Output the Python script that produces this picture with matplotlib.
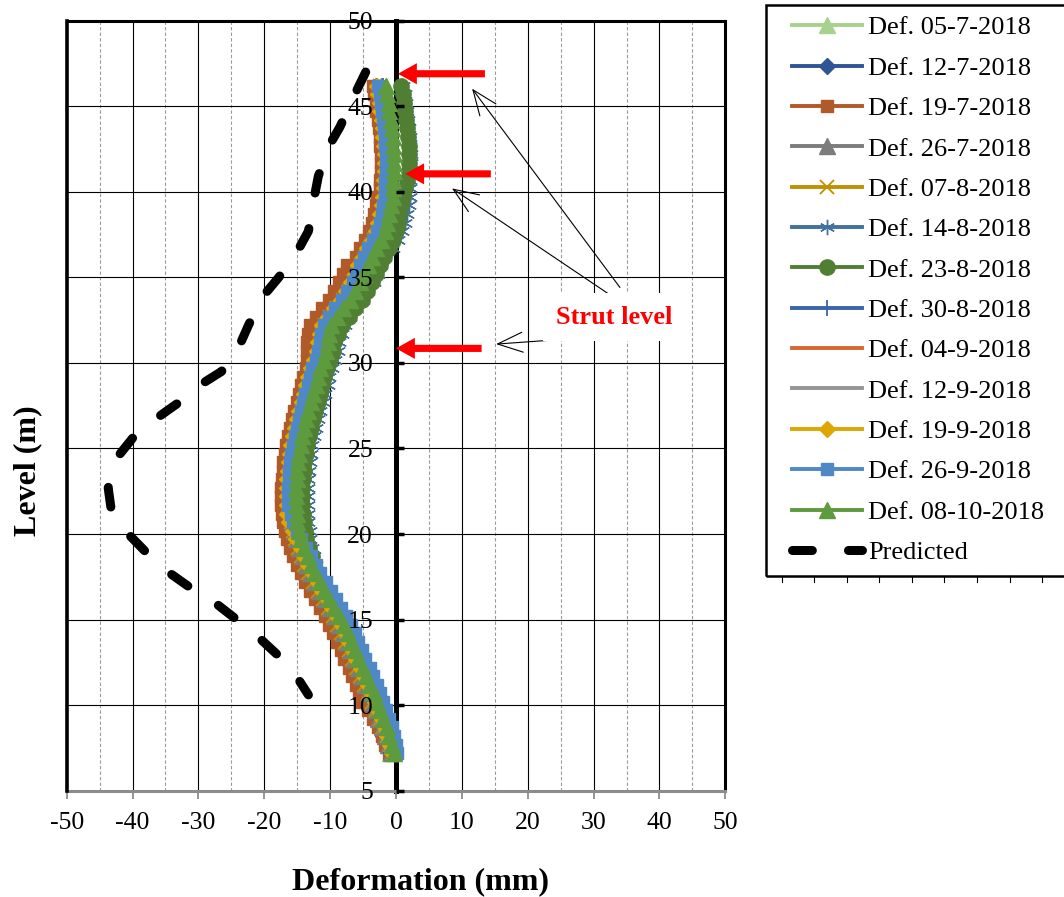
import matplotlib
matplotlib.use("Agg")
import matplotlib.pyplot as plt
from matplotlib.patches import Rectangle, FancyArrowPatch
from matplotlib.lines import Line2D

plt.rcParams['font.family'] = ['Liberation Serif', 'DejaVu Serif']
plt.rcParams['axes.unicode_minus'] = False

# ---------------- data ----------------
LEVELS = [46.2, 45.7, 45.2, 44.7, 44.2, 43.7, 43.2, 42.7, 42.2, 41.7,
          41.2, 40.7, 40.2, 39.7, 39.2, 38.7, 38.2, 37.7, 37.2, 36.7,
          36.2, 35.7, 35.2, 34.7, 34.2, 33.7, 33.2, 32.7, 32.2, 31.7,
          31.2, 30.7, 30.2, 29.7, 29.2, 28.7, 28.2, 27.7, 27.2, 26.7,
          26.2, 25.7, 25.2, 24.7, 24.2, 23.7, 23.2, 22.7, 22.2, 21.7,
          21.2, 20.7, 20.2, 19.7, 19.2, 18.7, 18.2, 17.7, 17.2, 16.7,
          16.2, 15.7, 15.2, 14.7, 14.2, 13.7, 13.2, 12.7, 12.2, 11.7,
          11.2, 10.7, 10.2, 9.7, 9.2, 8.7, 8.2, 7.7, 7.2]

DEF_05_07 = [-2.1, -1.9, -1.7, -1.6, -1.4, -1.2, -1.1, -1.0, -0.9, -0.9,
             -0.9, -1.0, -1.0, -1.1, -1.3, -1.6, -1.9, -2.3, -2.9, -3.6,
             -4.2, -4.9, -5.4, -6.0, -6.8, -7.6, -8.6, -9.6, -10.4, -10.8,
             -11.0, -11.2, -11.6, -12.1, -12.5, -12.8, -13.2, -13.5, -13.9, -14.2,
             -14.5, -14.8, -15.1, -15.3, -15.5, -15.6, -15.7, -15.8, -15.8, -15.8,
             -15.7, -15.6, -15.3, -15.0, -14.5, -14.0, -13.5, -12.9, -12.2, -11.5,
             -10.7, -10.0, -9.2, -8.5, -7.9, -7.4, -6.8, -6.3, -5.6, -5.1,
             -4.5, -4.0, -3.5, -3.0, -2.5, -2.0, -1.6, -1.2, -0.9]
DEF_12_07 = [-3.1, -2.9, -2.7, -2.6, -2.4, -2.2, -2.1, -2.0, -1.9, -1.9,
             -1.9, -2.0, -2.0, -2.1, -2.3, -2.6, -2.9, -3.3, -3.9, -4.6,
             -5.2, -5.9, -6.4, -7.0, -7.8, -8.6, -9.6, -10.6, -11.4, -11.8,
             -12.0, -12.2, -12.6, -13.1, -13.5, -13.8, -14.2, -14.5, -14.9, -15.2,
             -15.5, -15.8, -16.1, -16.3, -16.5, -16.6, -16.7, -16.8, -16.8, -16.8,
             -16.7, -16.6, -16.3, -16.0, -15.5, -15.0, -14.5, -13.9, -13.2, -12.5,
             -11.7, -11.0, -10.2, -9.5, -8.9, -8.4, -7.8, -7.3, -6.6, -6.1,
             -5.5, -4.9, -4.3, -3.7, -3.1, -2.5, -1.9, -1.3, -0.8]
DEF_19_07 = [-3.5, -3.3, -3.1, -3.0, -2.8, -2.6, -2.5, -2.4, -2.3, -2.3,
             -2.3, -2.4, -2.4, -2.9, -3.1, -3.4, -3.7, -4.1, -4.7, -5.4,
             -6.0, -7.5, -8.0, -8.6, -9.4, -10.2, -11.2, -12.2, -13.0, -13.4,
             -13.5, -13.5, -13.5, -13.7, -14.1, -14.4, -14.8, -15.1, -15.5, -15.8,
             -16.1, -16.4, -16.7, -16.9, -17.1, -17.2, -17.3, -17.4, -17.4, -17.4,
             -17.3, -17.2, -16.9, -16.6, -16.1, -15.6, -15.1, -14.5, -13.8, -13.1,
             -12.3, -11.6, -10.8, -10.1, -9.5, -9.0, -8.4, -7.9, -7.2, -6.7,
             -6.1, -5.6, -5.1, -4.2, -3.5, -2.8, -2.2, -1.6, -1.1]
DEF_26_07 = [-2.3, -2.1, -1.9, -1.8, -1.6, -1.4, -1.3, -1.2, -1.1, -1.1,
             -1.1, -1.2, -1.2, -1.3, -1.5, -1.8, -2.1, -2.5, -3.1, -3.8,
             -4.4, -5.1, -5.6, -6.2, -7.0, -7.8, -8.8, -9.8, -10.6, -11.0,
             -11.2, -11.4, -11.8, -12.3, -12.7, -13.0, -13.4, -13.7, -14.1, -14.4,
             -14.7, -15.0, -15.3, -15.5, -15.7, -15.8, -15.9, -16.0, -16.0, -16.0,
             -15.9, -15.8, -15.5, -15.2, -14.7, -14.2, -13.7, -13.1, -12.4, -11.7,
             -10.9, -10.2, -9.4, -8.7, -8.1, -7.6, -7.0, -6.5, -5.8, -5.3,
             -4.7, -4.2, -3.7, -3.2, -2.7, -2.2, -1.7, -1.2, -0.8]
DEF_07_08 = [-2.5, -2.3, -2.1, -2.0, -1.8, -1.6, -1.5, -1.4, -1.3, -1.3,
             -1.3, -1.4, -1.4, -1.5, -1.7, -2.0, -2.3, -2.7, -3.3, -4.0,
             -4.6, -5.3, -5.8, -6.4, -7.2, -8.0, -9.0, -10.0, -10.8, -11.2,
             -11.4, -11.6, -12.0, -12.5, -12.9, -13.2, -13.6, -13.9, -14.3, -14.6,
             -14.9, -15.2, -15.5, -15.7, -15.9, -16.0, -16.1, -16.2, -16.2, -16.2,
             -16.1, -16.0, -15.7, -15.4, -14.9, -14.4, -13.9, -13.3, -12.6, -11.9,
             -11.1, -10.4, -9.6, -8.9, -8.3, -7.8, -7.2, -6.7, -6.0, -5.5,
             -4.9, -4.3, -3.7, -3.1, -2.5, -1.9, -1.4, -0.9, -0.5]
DEF_14_08 = [1.1, 1.3, 1.5, 1.6, 1.8, 2.0, 2.1, 2.2, 2.3, 2.3,
             2.3, 2.2, 2.2, 2.1, 1.9, 1.6, 1.3, 0.9, 0.3, -0.4,
             -1.6, -2.3, -2.8, -3.4, -4.2, -5.0, -6.0, -7.0, -7.8, -8.2,
             -8.6, -8.8, -9.2, -9.7, -10.1, -10.4, -10.8, -11.1, -11.5, -11.8,
             -12.1, -12.4, -12.7, -12.9, -13.1, -13.2, -13.3, -13.4, -13.4, -13.4,
             -13.3, -13.3, -13.1, -13.0, -12.7, -12.4, -12.1, -11.7, -11.1, -10.4,
             -9.6, -8.9, -8.1, -7.4, -6.8, -6.3, -5.7, -5.2, -4.5, -4.0,
             -3.4, -2.9, -2.4, -1.9, -1.4, -1.0, -0.6, -0.2, 0.0]
DEF_23_08 = [0.8, 1.0, 1.2, 1.3, 1.5, 1.7, 1.8, 1.9, 2.0, 2.0,
             1.9, 1.7, 1.4, 1.1, 0.8, 0.5, 0.3, 0.0, -0.5, -1.1,
             -1.8, -2.4, -3.0, -3.6, -4.4, -5.2, -6.2, -7.2, -8.2, -8.8,
             -9.4, -9.6, -10.0, -10.5, -10.9, -11.2, -11.6, -11.9, -12.3, -12.6,
             -12.9, -13.2, -13.5, -13.7, -13.9, -14.0, -14.1, -14.2, -14.2, -14.2,
             -14.1, -14.0, -13.8, -13.6, -13.2, -12.8, -12.4, -11.9, -11.3, -10.6,
             -9.9, -9.2, -8.4, -7.7, -7.1, -6.6, -6.0, -5.5, -4.8, -4.3,
             -3.7, -3.2, -2.7, -2.2, -1.7, -1.2, -0.8, -0.4, -0.1]
DEF_30_08 = [-1.9, -1.7, -1.5, -1.4, -1.2, -1.0, -0.9, -0.8, -0.7, -0.7,
             -0.7, -0.8, -0.8, -0.9, -1.1, -1.4, -1.7, -2.1, -2.7, -3.4,
             -4.0, -4.7, -5.2, -5.8, -6.6, -7.4, -8.4, -9.4, -10.2, -10.6,
             -10.8, -11.0, -11.4, -11.9, -12.3, -12.6, -13.0, -13.3, -13.7, -14.0,
             -14.3, -14.6, -14.9, -15.1, -15.3, -15.4, -15.5, -15.6, -15.6, -15.6,
             -15.5, -15.4, -15.1, -14.8, -14.3, -13.8, -13.3, -12.7, -12.0, -11.3,
             -10.5, -9.8, -9.0, -8.3, -7.7, -7.2, -6.6, -6.1, -5.4, -4.9,
             -4.3, -3.8, -3.3, -2.8, -2.3, -1.8, -1.4, -1.0, -0.7]
DEF_04_09 = [-2.4, -2.2, -2.0, -1.9, -1.7, -1.5, -1.4, -1.3, -1.2, -1.2,
             -1.2, -1.3, -1.3, -1.4, -1.6, -1.9, -2.2, -2.6, -3.2, -3.9,
             -4.5, -5.2, -5.7, -6.3, -7.1, -7.9, -8.9, -9.9, -10.7, -11.1,
             -11.3, -11.5, -11.9, -12.4, -12.8, -13.1, -13.5, -13.8, -14.2, -14.5,
             -14.8, -15.1, -15.4, -15.6, -15.8, -15.9, -16.0, -16.1, -16.1, -16.1,
             -16.0, -15.9, -15.6, -15.3, -14.8, -14.3, -13.8, -13.2, -12.5, -11.8,
             -11.0, -10.3, -9.5, -8.8, -8.2, -7.7, -7.1, -6.6, -5.9, -5.4,
             -4.8, -4.3, -3.8, -3.3, -2.8, -2.3, -1.9, -1.5, -1.2]
DEF_12_09 = [-2.6, -2.4, -2.2, -2.1, -1.9, -1.7, -1.6, -1.5, -1.4, -1.4,
             -1.4, -1.5, -1.5, -1.6, -1.8, -2.1, -2.4, -2.8, -3.4, -4.1,
             -4.7, -5.4, -5.9, -6.5, -7.3, -8.1, -9.1, -10.1, -10.9, -11.3,
             -11.5, -11.7, -12.1, -12.6, -13.0, -13.3, -13.7, -14.0, -14.4, -14.7,
             -15.0, -15.3, -15.6, -15.8, -16.0, -16.1, -16.2, -16.3, -16.3, -16.3,
             -16.2, -16.1, -15.8, -15.5, -15.0, -14.5, -14.0, -13.4, -12.7, -12.0,
             -11.2, -10.5, -9.7, -9.0, -8.4, -7.9, -7.3, -6.8, -6.1, -5.6,
             -5.0, -4.5, -4.0, -3.5, -3.0, -2.5, -2.1, -1.7, -1.4]
DEF_19_09 = [-2.9, -2.7, -2.5, -2.4, -2.2, -2.0, -1.9, -1.8, -1.7, -1.7,
             -1.7, -1.8, -1.8, -1.9, -2.1, -2.4, -2.7, -3.1, -3.7, -4.4,
             -5.0, -5.7, -6.2, -6.8, -7.6, -8.4, -9.4, -10.4, -11.2, -11.6,
             -11.8, -12.0, -12.4, -12.9, -13.3, -13.6, -14.0, -14.3, -14.7, -15.0,
             -15.3, -15.6, -15.9, -16.1, -16.3, -16.4, -16.5, -16.6, -16.6, -16.6,
             -16.5, -16.2, -15.7, -15.2, -14.5, -13.9, -13.3, -12.6, -11.9, -11.2,
             -10.4, -9.7, -8.9, -8.2, -7.6, -7.1, -6.5, -6.0, -5.3, -4.8,
             -4.2, -3.7, -3.2, -2.7, -2.2, -1.7, -1.3, -0.9, -0.6]
DEF_26_09 = [-2.7, -2.5, -2.3, -2.2, -2.0, -1.8, -1.7, -1.6, -1.5, -1.5,
             -1.5, -1.6, -1.6, -1.7, -1.9, -2.2, -2.5, -2.9, -3.5, -4.2,
             -4.8, -5.5, -6.0, -6.6, -7.4, -8.2, -9.2, -10.2, -11.0, -11.4,
             -11.6, -11.8, -12.2, -12.7, -13.1, -13.4, -13.8, -14.1, -14.5, -14.8,
             -15.1, -15.4, -15.7, -15.9, -16.1, -16.2, -16.3, -16.4, -16.4, -16.4,
             -16.0, -15.6, -15.0, -14.4, -13.6, -12.9, -12.2, -11.5, -10.7, -9.9,
             -9.1, -8.4, -7.6, -6.9, -6.3, -5.8, -5.2, -4.7, -4.0, -3.5,
             -2.9, -2.4, -1.9, -1.5, -1.0, -0.6, -0.3, 0.0, 0.2]
DEF_08_10 = [-1.5, -1.3, -1.1, -1.0, -0.8, -0.6, -0.5, -0.4, -0.3, -0.3,
             -0.3, -0.4, -0.4, -0.5, -0.7, -1.0, -1.3, -1.7, -2.3, -3.0,
             -3.6, -4.3, -4.8, -5.4, -6.2, -7.0, -8.0, -9.0, -9.8, -10.2,
             -10.4, -10.6, -11.0, -11.5, -11.9, -12.2, -12.6, -12.9, -13.3, -13.6,
             -13.9, -14.2, -14.5, -14.7, -14.9, -15.0, -15.1, -15.2, -15.2, -15.2,
             -15.1, -15.0, -14.7, -14.4, -13.9, -13.4, -12.9, -12.3, -11.6, -10.9,
             -10.1, -9.4, -8.6, -7.9, -7.3, -6.8, -6.2, -5.7, -5.0, -4.5,
             -3.9, -3.4, -2.9, -2.4, -1.9, -1.4, -1.0, -0.6, -0.3]

PRED_DEF = [-4.6, -6.5, -8.5, -10.3, -11.8, -12.5, -13.3, -15.0, -17.8, -20.4,
            -22.4, -23.9, -26.5, -29.8, -33.3, -36.6, -40.0, -42.5, -43.7, -43.2,
            -40.4, -37.6, -34.3, -31.0, -27.2, -24.2, -20.4, -17.6, -14.8, -13.3]
PRED_LEVEL = [47.0, 45.5, 43.8, 42.6, 40.9, 39.5, 37.7, 36.5, 35.0, 33.8,
              32.2, 30.9, 29.5, 28.7, 27.6, 26.7, 25.6, 24.4, 22.7, 21.3,
              19.9, 18.8, 17.7, 16.8, 15.9, 15.0, 13.8, 12.8, 11.5, 10.6]

SERIES_LABELS = ['Def. 05-7-2018', 'Def. 12-7-2018', 'Def. 19-7-2018', 'Def. 26-7-2018',
                 'Def. 07-8-2018', 'Def. 14-8-2018', 'Def. 23-8-2018', 'Def. 30-8-2018',
                 'Def. 04-9-2018', 'Def. 12-9-2018', 'Def. 19-9-2018', 'Def. 26-9-2018',
                 'Def. 08-10-2018']
SERIES_VALUES = [DEF_05_07, DEF_12_07, DEF_19_07, DEF_26_07, DEF_07_08, DEF_14_08,
                 DEF_23_08, DEF_30_08, DEF_04_09, DEF_12_09, DEF_19_09, DEF_26_09,
                 DEF_08_10]

# strut levels (m) and arrow tails / tips (mm)
STRUT_LEVELS = [46.9, 41.05, 30.85]
STRUT_TAIL = [13.5, 14.4, 13.0]
STRUT_TIP = [0.3, 1.4, 0.0]

X_TICKS = [-50, -40, -30, -20, -10, 0, 10, 20, 30, 40, 50]
Y_TICKS = [5, 10, 15, 20, 25, 30, 35, 40, 45, 50]

# ---------------- styles ----------------
STYLES = [
    dict(color='#A9D18E', marker='^', ms=12),
    dict(color='#2F5597', marker='D', ms=8),
    dict(color='#B15A29', marker='s', ms=9),
    dict(color='#7C7C7C', marker='^', ms=12),
    dict(color='#BF9000', marker='x', ms=10, mew=1.3),
    dict(color='#41719C', marker=(6, 2, 0), ms=11, mew=1.0),
    dict(color='#507F34', marker='o', ms=11),
    dict(color='#3B64AD', marker='+', ms=11, mew=1.3),
    dict(color='#D4692F', marker=None),
    dict(color='#959595', marker=None),
    dict(color='#DDA600', marker='D', ms=8),
    dict(color='#4F88C6', marker='s', ms=9),
    dict(color='#5E9A3E', marker='^', ms=12),
]

W, H = 1064, 897
fig = plt.figure(figsize=(W / 100, H / 100), dpi=100)
L, R, T, B = 66.7, 725.3, 20.7, 790.7
ax = fig.add_axes([L / W, 1 - B / H, (R - L) / W, (B - T) / H])
ax.set_xlim(-50, 50)
ax.set_ylim(5, 50)

# grid (manual so it stays under the data)
for x in [-40, -30, -20, -10, 10, 20, 30, 40]:
    ax.axvline(x, color='black', lw=0.8, zorder=0.5)
for x in [-45, -35, -25, -15, -5, 5, 15, 25, 35, 45]:
    ax.axvline(x, color='#9a9a9a', lw=0.8, ls=(0, (3, 2)), zorder=0.5)
for y in [10, 15, 20, 25, 30, 35, 40, 45]:
    ax.axhline(y, color='black', lw=0.8, zorder=0.5)

# spines
ax.spines['left'].set_position(('data', 0))
ax.spines['left'].set_linewidth(3.6)
ax.spines['left'].set_color('black')
ax.spines['left'].set_zorder(1.9)
for s in ['top', 'right']:
    ax.spines[s].set_linewidth(2.2)
    ax.spines[s].set_color('black')
ax.spines['bottom'].set_linewidth(2.2)
ax.spines['bottom'].set_color('#8c8c8c')
ax.axvline(-50, color='black', lw=2.6, zorder=3, clip_on=False)

ax.set_axisbelow(False)
ax.set_xticks(X_TICKS)
ax.set_xticklabels([str(v) for v in X_TICKS])
ax.set_yticks(Y_TICKS)
ax.set_yticklabels([str(v) for v in Y_TICKS])
ax.tick_params(axis='x', direction='out', length=6, width=1.3, color='#8c8c8c',
               labelsize=18.5, pad=9.5)
ax.tick_params(axis='y', direction='in', length=5.5, width=2.5, color='black',
               labelsize=18.5, pad=16.5)

# measured series
lines = []
for vals, lab, st in zip(SERIES_VALUES, SERIES_LABELS, STYLES):
    kw = dict(color=st['color'], lw=2.8, zorder=2, label=lab)
    if st['marker'] is not None:
        kw.update(marker=st['marker'], ms=st['ms'], mfc=st['color'], mec=st['color'],
                  mew=st.get('mew', 1.0))
    ln, = ax.plot(vals, LEVELS, **kw)
    lines.append(ln)

# predicted
pred, = ax.plot(PRED_DEF, PRED_LEVEL, color='black', lw=6.5, ls=(0, (2.2, 4.0)),
                dash_capstyle='round', zorder=3, label='Predicted')
lines.append(pred)

# red strut arrows
for yl, xt, xh in zip(STRUT_LEVELS, STRUT_TAIL, STRUT_TIP):
    ar = FancyArrowPatch((xt, yl), (xh, yl),
                         arrowstyle='simple,head_length=0.85,head_width=0.95,tail_width=0.32',
                         mutation_scale=16, color='red', lw=0, zorder=5,
                         shrinkA=0, shrinkB=0)
    ax.add_patch(ar)

# annotation
TXT_X, TXT_Y = 33.1, 32.68
ax.text(TXT_X, TXT_Y, 'Strut level', color='red', fontsize=19, fontweight='bold',
        ha='center', va='center', zorder=6,
        bbox=dict(facecolor='white', edgecolor='none', pad=9))
for (x0, y0), (x1, y1) in [((34.0, 34.41), (11.55, 46.03)),
                           ((32.4, 34.0), (8.5, 40.2)),
                           ((33.4, 31.6), (15.2, 31.1))]:
    ar = FancyArrowPatch((x0, y0), (x1, y1),
                         arrowstyle='->,head_length=1.0,head_width=0.4',
                         mutation_scale=18, color='black', lw=0.8, zorder=4,
                         shrinkA=0, shrinkB=0)
    ax.add_patch(ar)

# axis titles
fig.text(420.5 / W, 1 - 882 / H, 'Deformation (mm)', ha='center', va='center',
         fontsize=23, fontweight='bold')
fig.text(28 / W, 1 - 471 / H, 'Level (m)', rotation=90, ha='center', va='center',
         fontsize=23, fontweight='bold')

# legend
leg = fig.legend(lines, [l.get_label() for l in lines], loc='upper left',
                 bbox_to_anchor=(792 / W, 1 - 16 / H), borderaxespad=0, borderpad=0,
                 frameon=False, fontsize=19, handlelength=2.65, handletextpad=0.23,
                 labelspacing=0.64, numpoints=1)
fig.patches.append(Rectangle((766 / W, 1 - 576 / H), (1100 - 766) / W, (576 - 5) / H,
                             transform=fig.transFigure, fill=False, edgecolor='black',
                             lw=1.8))
# small tick marks under the legend frame (as in the original graphic)
for k in range(9):
    xp = (781.7 + k * 32.55) / W
    fig.add_artist(Line2D([xp, xp], [1 - 576 / H, 1 - 582 / H], color='black', lw=0.8,
                          transform=fig.transFigure))

fig.savefig('out.png', dpi=100)
